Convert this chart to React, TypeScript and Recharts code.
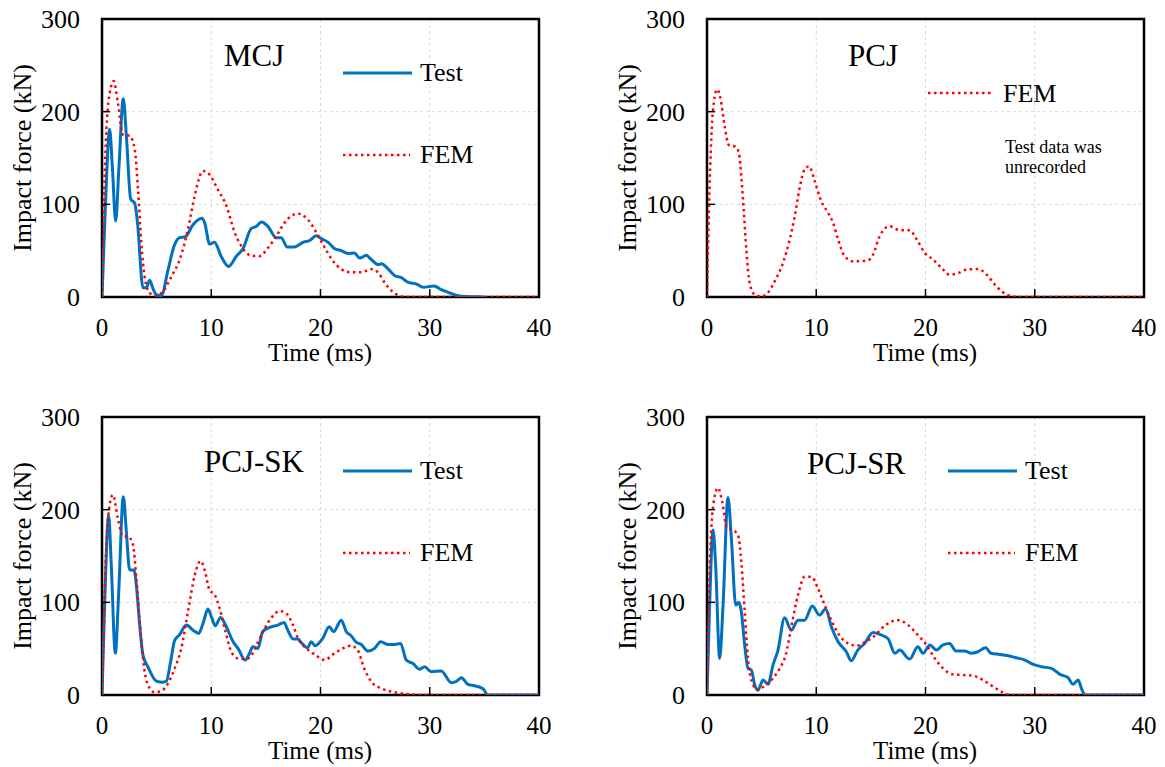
import React from 'react';
import { LineChart, Line, XAxis, YAxis, CartesianGrid, ReferenceArea } from 'recharts';

type Pt = [number, number];

const timeTicks = [0, 10, 20, 30, 40];
const forceTicks = [0, 100, 200, 300];

const mcjTest: Pt[] = [[0,0],[0.3,95],[0.7,181],[0.95,140],[1.25,82],[1.55,140],[1.95,214],[2.25,170],[2.62,106],[3.0,101],[3.25,80],[3.75,10],[4.05,10],[4.36,18],[4.7,8],[4.97,2.5],[5.43,1.4],[6.04,29],[6.6,55],[7.1,64],[7.63,65],[8.33,78],[9.15,85],[9.4,80],[9.85,57],[10.3,59],[10.9,44],[11.6,33],[12.3,44],[12.9,52],[13.67,74],[14.1,76],[14.6,81],[15.2,76],[15.95,64],[16.4,64],[16.96,54],[17.6,54],[18.4,59],[19.0,61],[19.6,66],[20.07,63],[20.7,59],[21.3,52],[21.9,50],[22.5,47],[23.1,47.5],[23.6,42],[24.2,45],[24.6,41],[25.3,35],[25.6,36],[26.2,30],[26.8,23],[27.4,21],[28.0,16],[28.8,14],[29.4,10.4],[30.4,12],[31.05,8],[31.7,5],[32.6,1.4],[33.5,0.5],[35,0]];
const mcjFem: Pt[] = [[0,0],[0.24,130],[0.7,220],[1.07,233],[1.46,209],[1.92,175],[2.53,174],[3.0,159],[3.3,116],[3.6,58],[3.9,22],[4.36,4.3],[4.97,1.4],[5.58,6],[6.35,22],[7.1,40],[7.87,73],[8.48,109],[9.24,136],[9.85,132],[10.6,116],[11.4,98],[12.1,71],[12.75,55],[13.67,44.6],[14.4,44],[15.2,53],[15.95,65.5],[16.7,80],[17.9,90],[18.85,83.5],[19.6,70],[20.4,53],[21.1,39.6],[21.9,30],[22.8,26.6],[23.7,26.6],[24.65,30],[25.3,26],[25.9,15],[26.5,6.8],[27.2,1.4],[27.7,0],[40,0]];

const pcjFem: Pt[] = [[0,0],[0.18,94],[0.4,173],[0.7,216],[0.92,224],[1.22,215],[1.62,184],[2.0,164],[2.63,162],[2.93,155],[3.14,130],[3.36,94],[3.6,51],[3.9,15],[4.37,2.5],[4.98,0.7],[5.6,5],[6.2,17],[6.96,37],[7.57,62],[8.03,87],[8.5,119],[8.95,138],[9.34,141],[9.86,125],[10.47,103],[11.08,91],[11.54,80],[12.0,62],[12.6,44],[13.37,38.5],[14.75,39.6],[15.2,45.7],[15.8,65.5],[16.7,76.3],[17.65,72],[18.56,72],[19.2,62],[19.94,47.5],[20.7,40.3],[21.47,31.3],[22.2,24.1],[23.0,25.9],[23.75,29.5],[24.8,30.2],[25.6,24.1],[26.35,13.3],[27.1,5],[27.9,0.7],[28.6,0],[40,0]];

const pcjSkTest: Pt[] = [[0,0],[0.24,97],[0.61,194],[0.85,140],[1.22,45],[1.53,111],[1.95,214],[2.23,176],[2.53,135],[2.93,135],[3.14,119],[3.45,75.5],[3.75,43],[4.2,30.5],[4.97,15],[5.58,13.7],[5.9,15],[6.28,36],[6.65,59],[7.1,65],[7.72,75.5],[8.33,70],[8.85,66.5],[9.24,77],[9.7,92.7],[10.07,82.6],[10.37,74.7],[10.86,83.7],[11.38,73.7],[12.0,57.5],[12.45,50.3],[13.1,37.7],[13.5,45],[13.8,52],[14.28,50.3],[14.7,68.3],[15.35,73],[16.1,75.5],[16.66,78.3],[17.0,70],[17.5,60.4],[17.94,60.4],[18.3,55.7],[18.8,51],[19.16,57.5],[19.5,53.2],[20.2,61],[20.8,73.7],[21.2,68.3],[21.9,80.8],[22.36,68.3],[22.8,64],[23.28,56.8],[23.73,54.6],[24.34,47.4],[24.95,50.3],[25.5,57.5],[26.2,54.6],[26.8,54.6],[27.33,55.7],[27.85,37.7],[28.46,34],[29.07,27.7],[29.53,30.5],[30.14,25.2],[31.05,26],[31.97,13.3],[32.4,14.4],[32.9,18.7],[33.5,11.5],[34.1,10],[34.9,6.5],[35.3,0],[40,0]];
const pcjSkFem: Pt[] = [[0,0],[0.4,162],[0.7,205],[1.0,216],[1.46,190],[1.92,171],[2.38,171],[2.84,162],[3.14,126],[3.45,79],[3.75,39.5],[4.2,10.8],[4.82,2.9],[5.43,4.3],[6.04,12.6],[6.65,28.7],[7.26,50.3],[7.87,90],[8.48,129],[9.03,144.5],[9.4,134.7],[9.85,113],[10.3,108.5],[10.77,93.4],[11.3,68.3],[11.84,46.7],[12.45,39.5],[13.2,38.8],[13.8,45],[14.43,61],[14.9,72],[15.5,83.4],[16.26,90.6],[16.87,88],[17.48,75.5],[17.94,61],[18.55,52],[19.46,43.8],[20.38,37.7],[21.14,43.8],[22.05,50.3],[22.8,53.2],[23.4,48.5],[24.0,28.7],[24.65,14.4],[25.56,7.2],[26.8,2.9],[28.3,0.7],[28.9,0],[40,0]];

const pcjSrTest: Pt[] = [[0,0],[0.24,97],[0.55,178],[0.79,140],[1.16,39.5],[1.47,97],[1.92,213],[2.23,169],[2.63,97],[2.93,100],[3.14,90],[3.45,54],[3.75,28.7],[4.06,27],[4.37,10.8],[4.67,5.4],[5.13,16.2],[5.58,11.5],[6.04,32.3],[6.5,48.5],[7.1,83.4],[7.72,70],[8.33,80.8],[8.94,80.8],[9.64,96],[10.3,86.2],[10.86,92.7],[11.38,73.7],[12.0,57.5],[12.75,46.7],[13.2,37],[13.8,48.5],[14.43,55.7],[15.2,67.5],[15.8,65.4],[16.56,61],[17.2,45],[17.63,48.5],[18.55,38.8],[19.3,52],[19.77,45],[20.4,54],[21.0,48.5],[21.6,54],[22.2,55.7],[22.8,47.4],[23.58,47.4],[24.2,45],[24.8,46.7],[25.5,51],[26.0,45],[26.8,43.8],[27.57,42.4],[28.3,40.2],[29.1,37.7],[29.86,33],[30.6,30.5],[31.54,28.7],[32.3,22.3],[33.05,18.7],[33.5,11.5],[33.97,16.2],[34.27,7.2],[34.6,0],[40,0]];
const pcjSrFem: Pt[] = [[0,0],[0.24,133],[0.61,208],[1.0,223.5],[1.4,208],[1.83,180],[2.38,178],[2.84,172.5],[3.14,144],[3.45,90],[3.75,39.5],[4.2,11.5],[4.67,5.4],[5.28,10],[6.04,18],[6.65,28.7],[7.2,43],[7.72,73.7],[8.33,108],[8.94,127.6],[9.55,127.6],[10.16,115],[10.77,97],[11.38,80.8],[12.14,64],[12.9,55.7],[13.67,53.2],[14.43,56.8],[15.35,64],[16.26,74.7],[17.48,80.8],[18.4,75.5],[19.3,64.7],[20.1,54],[20.85,39.5],[21.6,28.7],[22.5,22.3],[23.4,21.6],[24.34,20.8],[25.26,16.2],[26.2,9],[26.95,3.6],[27.85,0],[40,0]];

const FONT = '"Liberation Serif", "Times New Roman", serif';
const BLUE = '#0070C0';
const RED = '#FF0000';

const toRows = (pts: Pt[]) => pts.map(([t, f]) => ({ t, f }));

const XTick = (props: any) => {
  const { x, y, payload } = props;
  const v = payload.value;
  return (
    <g>
      {v > 0 && v < 40 && <line x1={x} x2={x} y1={y} y2={y - 8} stroke="#000" strokeWidth={1.5} />}
      <text x={x} y={y + 39} textAnchor="middle" fontSize={25} fontFamily={FONT} fill="#000">{v}</text>
    </g>
  );
};

const YTick = (props: any) => {
  const { x, y, payload } = props;
  const v = payload.value;
  return (
    <g>
      {v > 0 && v < 300 && <line x1={x} x2={x + 8} y1={y} y2={y} stroke="#000" strokeWidth={1.5} />}
      <text x={x - 22} y={y + 9} textAnchor="end" fontSize={26} fontFamily={FONT} fill="#000">{v}</text>
    </g>
  );
};

type PanelProps = {
  left: number;
  top: number;
  title: string;
  titleX: number;
  titleY: number;
  test?: Pt[];
  fem: Pt[];
  note?: boolean;
};

const Panel = ({ left, top, title, titleX, titleY, test, fem, note }: PanelProps) => {
  const W = 580;
  const H = 400;
  return (
    <div style={{ position: 'absolute', left, top, width: W, height: H }}>
      <LineChart width={W} height={H} margin={{ top: 19, right: 41, left: 0, bottom: 0 }}>
        <CartesianGrid stroke="#d9d9d9" strokeDasharray="3 3" />
        <XAxis
          type="number"
          dataKey="t"
          domain={[0, 40]}
          ticks={timeTicks}
          height={103}
          tickSize={0}
          tickMargin={0}
          tickLine={false}
          axisLine={false}
          tick={<XTick />}
          allowDataOverflow
        />
        <YAxis
          type="number"
          dataKey="f"
          domain={[0, 300]}
          ticks={forceTicks}
          width={102}
          tickSize={0}
          tickMargin={0}
          tickLine={false}
          axisLine={false}
          tick={<YTick />}
          allowDataOverflow
        />
        <ReferenceArea x1={0} x2={40} y1={0} y2={300} fill="none" stroke="#000" strokeWidth={2.5} ifOverflow="visible" />
        {test && (
          <Line data={toRows(test)} dataKey="f" type="monotone" stroke={BLUE} strokeWidth={3} dot={false} isAnimationActive={false} />
        )}
        <Line data={toRows(fem)} dataKey="f" type="monotone" stroke={RED} strokeWidth={2.5} strokeDasharray="2.5 3.5" dot={false} isAnimationActive={false} />
      </LineChart>
      <svg width={W} height={H} style={{ position: 'absolute', left: 0, top: 0, pointerEvents: 'none' }}>
        <text x={titleX} y={titleY} fontSize={31} fontFamily={FONT} fill="#000">{title}</text>
        {test ? (
          <g>
            <line x1={343} x2={412} y1={73} y2={73} stroke={BLUE} strokeWidth={3} />
            <text x={420} y={81} fontSize={26} fontFamily={FONT} fill="#000">Test</text>
            <line x1={343} x2={410} y1={155} y2={155} stroke={RED} strokeWidth={2.5} strokeDasharray="2.5 3.5" />
            <text x={420} y={163} fontSize={26} fontFamily={FONT} fill="#000">FEM</text>
          </g>
        ) : (
          <g>
            <line x1={323} x2={388} y1={93} y2={93} stroke={RED} strokeWidth={2.5} strokeDasharray="2.5 3.5" />
            <text x={398} y={102} fontSize={26} fontFamily={FONT} fill="#000">FEM</text>
          </g>
        )}
        {note && (
          <g>
            <text x={400} y={153} fontSize={18} fontFamily={FONT} fill="#000">Test data was</text>
            <text x={400} y={173} fontSize={18} fontFamily={FONT} fill="#000">unrecorded</text>
          </g>
        )}
        <text x={320} y={361} textAnchor="middle" fontSize={25} fontFamily={FONT} fill="#000">Time (ms)</text>
        <text
          x={0}
          y={0}
          transform={`translate(31, 158) rotate(-90)`}
          textAnchor="middle"
          fontSize={26}
          fontFamily={FONT}
          fill="#000"
        >
          Impact force (kN)
        </text>
      </svg>
    </div>
  );
}

export default function App() {
  return (
    <div style={{ position: 'absolute', left: 0, top: 0, width: 1165, height: 767, background: '#fff', overflow: 'hidden' }}>
      <Panel left={0} top={0} title="MCJ" titleX={224} titleY={66} test={mcjTest} fem={mcjFem} />
      <Panel left={605} top={0} title="PCJ" titleX={243} titleY={66} fem={pcjFem} note />
      <Panel left={0} top={398} title="PCJ-SK" titleX={204} titleY={74} test={pcjSkTest} fem={pcjSkFem} />
      <Panel left={605} top={398} title="PCJ-SR" titleX={202} titleY={76} test={pcjSrTest} fem={pcjSrFem} />
    </div>
  );
}
